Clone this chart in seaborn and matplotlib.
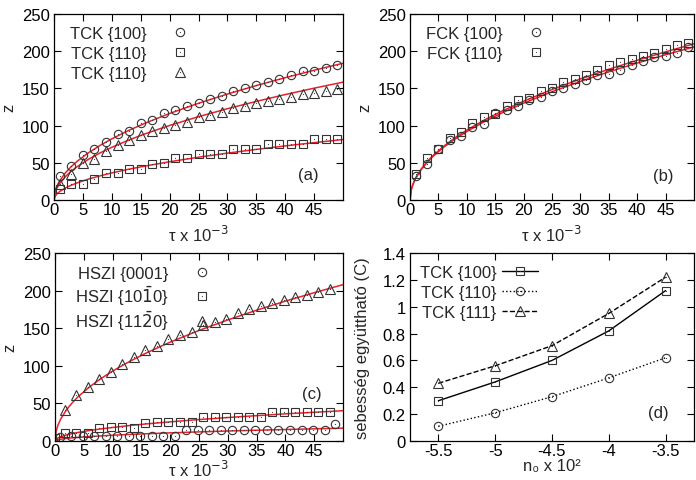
import matplotlib
matplotlib.use("Agg")
import matplotlib.pyplot as plt
from matplotlib.lines import Line2D
from matplotlib.ticker import FormatStrFormatter
import seaborn as sns

sns.set_theme(style="ticks")
plt.rcParams["font.family"] = ["Liberation Sans", "DejaVu Sans"]
plt.rcParams["axes.unicode_minus"] = False

# ---------------------------------------------------------------- data
# (a) TCK
tau_ab = [1, 3, 5, 7, 9, 11, 13, 15, 17, 19, 21, 23, 25, 27, 29, 31, 33, 35,
          37, 39, 41, 43, 45, 47, 49]
a_tck100 = [32, 46, 61, 69, 78, 89, 93, 103, 108, 117, 121, 127, 131, 136, 140,
            146, 150, 154, 158, 163, 168, 174, 174, 178, 182]
a_tck110 = [15, 22, 22, 28, 36, 36, 42, 42, 48, 50, 56, 56, 62, 62, 62, 69, 69,
            69, 75, 75, 75, 75, 82, 82, 82]
a_tck111 = [22, 35, 50, 55, 66, 74, 80, 87, 93, 97, 101, 105, 111, 114, 118,
            124, 126, 130, 133, 136, 138, 142, 144, 147, 149]

# (b) FCK
b_fck100 = [32, 49, 68, 80, 86, 98, 102, 117, 121, 126, 134, 139, 146, 150,
            156, 161, 168, 169, 175, 181, 187, 192, 193, 198, 205]
b_fck110 = [35, 56, 69, 83, 92, 103, 112, 116, 126, 134, 137, 147, 150, 159,
            163, 168, 175, 181, 186, 190, 194, 198, 203, 208, 211]

# (c) HSZI
tau_c_tri = [1.7, 3.7, 5.7, 7.7, 9.7, 11.7, 13.7, 15.7, 17.7, 19.7, 21.7, 23.7,
             25.7, 27.7, 29.7, 31.7, 33.7, 35.7, 37.7, 39.7, 41.7, 43.7, 45.7,
             47.7]
c_1120 = [41, 61, 72, 83, 92, 103, 112, 121, 126, 135, 141, 145, 154, 158, 162,
          170, 175, 179, 183, 187, 191, 194, 198, 202]
tau_c_sq = [0, 1.7, 3.7, 5.7, 7.7, 9.7, 11.7, 13.7, 15.7, 17.7, 19.7, 21.7,
            23.7, 25.7, 27.7, 29.7, 31.7, 33.7, 35.7, 37.7, 39.7, 41.7, 43.7,
            45.7, 47.7]
c_1010 = [3.5, 11, 11, 10, 17, 18, 18, 17, 23.5, 25, 25, 25, 25, 31.5, 31.5,
          31.5, 31.5, 31.5, 31.5, 39, 39, 39, 39, 39, 39]
tau_c_circ = [0.8, 2.8, 4.8, 6.8, 8.8, 10.8, 12.8, 14.8, 16.8, 18.8, 20.8,
              22.8, 24.8, 26.8, 28.8, 30.8, 32.8, 34.8, 36.8, 38.8, 40.8, 42.8,
              44.8, 46.8, 48.6]
c_0001 = [5, 6, 7, 7, 7, 7, 7, 7, 7, 7, 7, 14.7, 14.7, 14.7, 14.7, 14.7, 14.7,
          14.7, 14.7, 14.7, 14.7, 14.7, 14.7, 14.7, 22]

# red fit curves
tau_fit = [0, 0.2, 0.5, 1, 2, 3, 4, 6, 8, 10, 13, 16, 20, 25, 30, 35, 40, 45, 50]
fit_a100 = [0, 11.6, 18.4, 26, 36.8, 45, 52, 63.7, 73.5, 82.2, 93.8, 104,
            116.3, 130, 142.4, 153.8, 164.4, 174.4, 183.8]
fit_a111 = [0, 10, 15.8, 22.4, 31.7, 38.8, 44.8, 54.9, 63.4, 70.8, 80.8, 89.6,
            100.2, 112, 122.7, 132.5, 141.7, 150.3, 158.4]
fit_a110 = [0, 5.1, 8.1, 11.5, 16.3, 19.9, 23, 28.2, 32.5, 36.4, 41.5, 46,
            51.4, 57.5, 63, 68, 72.7, 77.1, 81.3]
fit_b110 = [0, 13.3, 21, 29.7, 42, 51.4, 59.4, 72.7, 84, 93.9, 107.1, 118.8,
            132.8, 148.5, 162.7, 175.7, 187.8, 199.2, 210]
fit_b100 = [0, 13, 20.6, 29.1, 41.1, 50.4, 58.2, 71.3, 82.3, 92, 104.9, 116.4,
            130.1, 145.5, 159.4, 172.2, 184.1, 195.2, 205.8]
fit_c1120 = [0, 13.1, 20.8, 29.4, 41.6, 50.9, 58.8, 72, 83.1, 93, 106, 117.6,
             131.5, 147, 161, 173.9, 186, 197.2, 207.9]
fit_c1010 = [0, 2.5, 4, 5.7, 8.1, 9.9, 11.4, 14, 16.1, 18, 20.6, 22.8, 25.5,
             28.5, 31.2, 33.7, 36.1, 38.2, 40.3]
fit_c0001 = [0, 1.1, 1.7, 2.4, 3.4, 4.2, 4.8, 5.9, 6.8, 7.7, 8.7, 9.7, 10.8,
             12.1, 13.3, 14.3, 15.3, 16.2, 17.1]

# (d) rate coefficient
n0 = [-5.5, -5, -4.5, -4, -3.5]
d_100 = [0.30, 0.44, 0.60, 0.82, 1.12]
d_110 = [0.11, 0.21, 0.33, 0.47, 0.62]
d_111 = [0.43, 0.56, 0.71, 0.95, 1.22]

EDGE = "#333333"
RED = "#e8202a"
FS = 12
MS = {"o": 6, "s": 6, "^": 6.5}

W, H = 696, 481
fig = plt.figure(figsize=(W / 100, H / 100), dpi=100)


def add_ax(left, right, top, bottom):
    return fig.add_axes([left / W, 1 - bottom / H, (right - left) / W, (bottom - top) / H])


def style(ax):
    for s in ax.spines.values():
        s.set_color("black")
        s.set_linewidth(0.9)
    ax.tick_params(direction="in", top=True, right=True, length=5, width=0.8,
                   labelsize=FS, colors="black", pad=3)
    ax.tick_params(axis="x", pad=1.5)


def pts(ax, x, y, marker):
    sns.lineplot(x=x, y=y, ax=ax, marker=marker, linestyle="none", ms=MS[marker],
                 mfc="none", mec=EDGE, mew=0.8, sort=False, estimator=None)
    sns.lineplot(x=x, y=y, ax=ax, marker=".", linestyle="none", ms=1.6,
                 mfc=EDGE, mec=EDGE, mew=0, sort=False, estimator=None)


def fit(ax, y):
    sns.lineplot(x=tau_fit, y=y, ax=ax, color=RED, lw=1.1, sort=False, estimator=None)


def handle(marker, ls="none"):
    h1 = Line2D([], [], color="black", lw=1, linestyle=ls, marker=marker, ms=MS[marker],
                mfc="none", mec=EDGE, mew=0.8)
    h2 = Line2D([], [], linestyle="none", marker=".", ms=1.6, mfc=EDGE, mec=EDGE, mew=0)
    return (h1, h2)


def time_axes(ax, tag, tag_xy, lp):
    ax.set_xlim(0, 50)
    ax.set_ylim(0, 250)
    ax.set_xticks(range(0, 50, 5))
    ax.set_yticks(range(0, 251, 50))
    ax.set_xlabel(r"τ x 10$^{-3}$", fontsize=FS, labelpad=lp)
    ax.set_ylabel("z", fontsize=FS, labelpad=4)
    ax.text(tag_xy[0], tag_xy[1], tag, transform=ax.transAxes, fontsize=FS,
            ha="center", va="center")
    style(ax)


def legend(ax, handles, labels, anchor, hl=2.0, pad=1.0, spacing=0.3):
    ax.legend(handles, labels, loc="upper left", bbox_to_anchor=anchor, frameon=False,
              markerfirst=False, fontsize=FS, handlelength=hl, handletextpad=pad,
              labelspacing=spacing, borderpad=0, borderaxespad=0)


# ---------------------------------------------------------------- (a)
ax = add_ax(54, 343, 15, 201)
fit(ax, fit_a100)
fit(ax, fit_a111)
fit(ax, fit_a110)
pts(ax, tau_ab, a_tck100, "o")
pts(ax, tau_ab, a_tck110, "s")
pts(ax, tau_ab, a_tck111, "^")
time_axes(ax, "(a)", (0.88, 0.135), 5)
legend(ax, [handle("o"), handle("s"), handle("^")],
       ["TCK {100}", "TCK {110}", "TCK {110}"], (0.055, 0.935))

# ---------------------------------------------------------------- (b)
ax = add_ax(410, 694, 15, 201)
fit(ax, fit_b110)
fit(ax, fit_b100)
pts(ax, tau_ab, b_fck100, "o")
pts(ax, tau_ab, b_fck110, "s")
time_axes(ax, "(b)", (0.893, 0.13), 5)
legend(ax, [handle("o"), handle("s")], ["FCK {100}", "FCK {110}"], (0.055, 0.935))

# ---------------------------------------------------------------- (c)
ax = add_ax(55, 343, 254, 442)
fit(ax, fit_c1120)
fit(ax, fit_c1010)
fit(ax, fit_c0001)
pts(ax, tau_c_circ, c_0001, "o")
pts(ax, tau_c_sq, c_1010, "s")
pts(ax, tau_c_tri, c_1120, "^")
time_axes(ax, "(c)", (0.89, 0.25), 0.5)
legend(ax, [handle("o"), handle("s"), handle("^")],
       [r"HSZI {0001}", r"HSZI {10$\bar{1}$0}", r"HSZI {11$\bar{2}$0}"],
       (0.069, 0.93), spacing=0.12)

# ---------------------------------------------------------------- (d)
ax = add_ax(410, 694, 254, 442)
for y, m, ls in [(d_100, "s", "-"), (d_110, "o", ":"), (d_111, "^", "--")]:
    sns.lineplot(x=n0, y=y, ax=ax, color="black", lw=1, linestyle=ls, marker=m,
                 ms=MS[m], mfc="none", mec=EDGE, mew=0.8, sort=False, estimator=None)
    sns.lineplot(x=n0, y=y, ax=ax, marker=".", linestyle="none", ms=1.6,
                 mfc=EDGE, mec=EDGE, mew=0, sort=False, estimator=None)
ax.set_xlim(-5.75, -3.25)
ax.set_ylim(0, 1.4)
ax.set_xticks(n0)
ax.set_yticks([0, 0.2, 0.4, 0.6, 0.8, 1, 1.2, 1.4])
ax.xaxis.set_major_formatter(FormatStrFormatter("%g"))
ax.yaxis.set_major_formatter(FormatStrFormatter("%g"))
ax.set_xlabel("n₀ x 10²", fontsize=FS, labelpad=0)
ax.set_ylabel("sebesség együttható (C)", fontsize=FS, labelpad=9)
ax.text(0.876, 0.15, "(d)", transform=ax.transAxes, fontsize=FS, ha="center", va="center")
style(ax)
legend(ax, [handle("s", "-"), handle("o", ":"), handle("^", "--")],
       ["TCK {100}", "TCK {110}", "TCK {111}"], (0.035, 0.935), hl=2.2, pad=0.3)

fig.savefig("out.png", dpi=100)
